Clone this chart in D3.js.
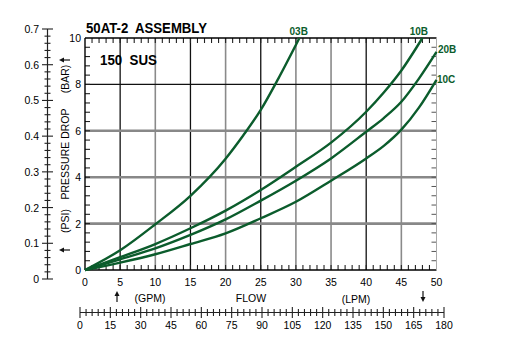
<!DOCTYPE html>
<html><head><meta charset="utf-8">
<script src="https://cdn.jsdelivr.net/npm/d3@7"></script>
<style>
html,body{margin:0;padding:0;background:#fff;}
svg{display:block;}
text{font-family:"Liberation Sans Narrow","Arial Narrow","Liberation Sans",Arial,sans-serif;}
</style></head>
<body>
<script>
// ---------- data ----------
const title = "50AT-2  ASSEMBLY";
const subtitle = "150  SUS";
const seriesNames = ["03B", "10B", "20B", "10C"];
const flow03B = [0, 5, 10, 15, 20, 22.5, 25, 27.5, 30.5];
const psi03B  = [0, 0.85, 1.97, 3.2, 4.8, 5.8, 6.9, 8.25, 10];
const flow10B = [0, 5, 10, 15, 20, 25, 30, 35, 40, 42.5, 45, 48];
const psi10B  = [0, 0.55, 1.12, 1.80, 2.56, 3.45, 4.45, 5.49, 6.82, 7.65, 8.6, 10];
const flow20B = [0, 5, 10, 15, 20, 25, 30, 35, 40, 42.5, 45, 47.5, 50];
const psi20B  = [0, 0.46, 0.93, 1.51, 2.18, 2.99, 3.85, 4.81, 5.96, 6.55, 7.25, 8.25, 9.4];
const flow10C = [0, 5, 10, 15, 20, 25, 30, 35, 40, 42.5, 45, 47.5, 50];
const psi10C  = [0, 0.32, 0.68, 1.12, 1.58, 2.23, 2.94, 3.85, 4.81, 5.35, 6.05, 7.0, 8.2];
const gpmTicks = [0, 5, 10, 15, 20, 25, 30, 35, 40, 45, 50];
const psiTicks = [0, 2, 4, 6, 8, 10];
const barTicks = [0, 0.1, 0.2, 0.3, 0.4, 0.5, 0.6, 0.7];
const lpmTicks = [0, 15, 30, 45, 60, 75, 90, 105, 120, 135, 150, 165, 180];

// ---------- setup ----------
const W = 506, H = 362;
const green = "#0b5c2c";
const svg = d3.select("body").append("svg").attr("width", W).attr("height", H);

const x = d3.scaleLinear().domain([0, 50]).range([85, 436.5]);
const y = d3.scaleLinear().domain([0, 10]).range([270, 38]);
const lpm = d3.scaleLinear().domain([0, 180]).range([80, 444]);
const bar = d3.scaleLinear().domain([0, 0.7]).range([279, 29]);

// ---------- grid ----------
const vGridStyle = {5:"k",10:"g",15:"k",20:"g",25:"k",30:"g",35:"g",40:"k",45:"g"};
const g = svg.append("g");
gpmTicks.filter(v => v > 0 && v < 50).forEach(v => {
  const dark = vGridStyle[v] === "k";
  g.append("line").attr("x1", x(v)).attr("x2", x(v)).attr("y1", y(10)).attr("y2", y(0))
    .attr("stroke", dark ? "#111" : "#8a8a8a").attr("stroke-width", dark ? 1.3 : 1.6);
});
psiTicks.filter(v => v > 0 && v < 10).forEach(v => {
  const dark = v === 8;
  g.append("line").attr("x1", x(0)).attr("x2", x(50)).attr("y1", y(v)).attr("y2", y(v))
    .attr("stroke", dark ? "#111" : "#888").attr("stroke-width", dark ? 1.4 : 2.6);
});

// minor ticks inside frame
d3.range(1, 50).forEach(v => {
  g.append("line").attr("x1", x(v)).attr("x2", x(v)).attr("y1", y(10)).attr("y2", y(10) + 5)
    .attr("stroke", "#222").attr("stroke-width", 1.1);
  g.append("line").attr("x1", x(v)).attr("x2", x(v)).attr("y1", y(0)).attr("y2", y(0) - 5)
    .attr("stroke", "#222").attr("stroke-width", 1.1);
});
d3.range(0.4, 10, 0.4).forEach(v => {
  g.append("line").attr("x1", x(0)).attr("x2", x(0) + 5).attr("y1", y(v)).attr("y2", y(v))
    .attr("stroke", "#222").attr("stroke-width", 1.1);
  g.append("line").attr("x1", x(50)).attr("x2", x(50) - 5).attr("y1", y(v)).attr("y2", y(v))
    .attr("stroke", "#555").attr("stroke-width", 1);
});

// frame
g.append("line").attr("x1", x(0)).attr("x2", x(50)).attr("y1", y(10)).attr("y2", y(10)).attr("stroke", "#000").attr("stroke-width", 1.4);
g.append("line").attr("x1", x(0)).attr("x2", x(50)).attr("y1", y(0)).attr("y2", y(0)).attr("stroke", "#000").attr("stroke-width", 1.4);
g.append("line").attr("x1", x(0)).attr("x2", x(0)).attr("y1", y(10)).attr("y2", y(0)).attr("stroke", "#000").attr("stroke-width", 1.4);
g.append("line").attr("x1", x(50)).attr("x2", x(50)).attr("y1", y(10)).attr("y2", y(0)).attr("stroke", "#aaa").attr("stroke-width", 1);

// ---------- curves ----------
const line = d3.line().x(d => x(d[0])).y(d => y(d[1])).curve(d3.curveMonotoneX);
const series = [
  [flow03B, psi03B], [flow10B, psi10B], [flow20B, psi20B], [flow10C, psi10C]
];
series.forEach(([f, p]) => {
  svg.append("path").datum(f.map((v, i) => [v, p[i]])).attr("d", line)
    .attr("fill", "none").attr("stroke", green).attr("stroke-width", 2.4);
});

// curve labels
const lab = svg.append("g").attr("fill", green).attr("font-weight", "bold").attr("font-size", 10)
  .style("font-family", "'Liberation Sans',Arial,sans-serif");
lab.append("text").attr("x", x(30.4)).attr("y", 35).attr("text-anchor", "middle").text(seriesNames[0]);
lab.append("text").attr("x", x(47.5)).attr("y", 35).attr("text-anchor", "middle").text(seriesNames[1]);
lab.append("text").attr("x", 438).attr("y", 53).text(seriesNames[2]);
lab.append("text").attr("x", 437).attr("y", 83).text(seriesNames[3]);

// ---------- psi labels ----------
psiTicks.forEach(v => {
  svg.append("text").attr("x", 81).attr("y", y(v) + 4).attr("text-anchor", "end")
    .attr("font-size", 10.5).text(v);
});
// gpm labels
gpmTicks.forEach(v => {
  svg.append("text").attr("x", x(v)).attr("y", 286).attr("text-anchor", "middle")
    .attr("font-size", 10.5).text(v);
});

// ---------- bar axis ----------
const ba = svg.append("g");
ba.append("line").attr("x1", 47.5).attr("x2", 47.5).attr("y1", bar(0.7)).attr("y2", bar(0))
  .attr("stroke", "#222").attr("stroke-width", 1.2);
d3.range(0, 0.7001, 0.02).forEach((v, i) => {
  const major = i % 5 === 0;
  ba.append("line").attr("x1", major ? 42 : 44.5).attr("x2", major ? 53 : 50.5)
    .attr("y1", bar(v)).attr("y2", bar(v)).attr("stroke", "#222").attr("stroke-width", 1.1);
});
barTicks.forEach(v => {
  ba.append("text").attr("x", 39).attr("y", bar(v) + 4).attr("text-anchor", "end")
    .attr("font-size", 10.5).text(v === 0 ? "0" : v.toFixed(1));
});

// ---------- lpm axis ----------
const la = svg.append("g");
la.append("line").attr("x1", lpm(0)).attr("x2", lpm(180)).attr("y1", 312.5).attr("y2", 312.5)
  .attr("stroke", "#222").attr("stroke-width", 1.2);
d3.range(0, 180.001, 3).forEach((v, i) => {
  const major = i % 5 === 0;
  la.append("line").attr("x1", lpm(v)).attr("x2", lpm(v))
    .attr("y1", major ? 307 : 309).attr("y2", major ? 318 : 316)
    .attr("stroke", "#222").attr("stroke-width", 1.1);
});
lpmTicks.forEach(v => {
  la.append("text").attr("x", lpm(v)).attr("y", 329).attr("text-anchor", "middle")
    .attr("font-size", 10.5).text(v);
});

// ---------- axis titles ----------
svg.append("text").attr("x", 150).attr("y", 302).attr("text-anchor", "middle").attr("font-size", 10.5).text("(GPM)");
svg.append("text").attr("x", 251).attr("y", 302).attr("text-anchor", "middle").attr("font-size", 10.5).text("FLOW");
svg.append("text").attr("x", 356).attr("y", 303).attr("text-anchor", "middle").attr("font-size", 10.5).text("(LPM)");

function arrow(cx, cy, dir) {
  const gA = svg.append("g").attr("transform", `translate(${cx},${cy})`);
  let path, stem;
  if (dir === "up") { path = "M0,-6 L-2.5,-1 L2.5,-1 Z"; stem = [0, -1, 0, 5]; }
  else if (dir === "down") { path = "M0,6 L-2.5,1 L2.5,1 Z"; stem = [0, 1, 0, -5]; }
  else { path = "M-6,0 L-1,-2.5 L-1,2.5 Z"; stem = [-1, 0, 5, 0]; }
  gA.append("path").attr("d", path).attr("fill", "#111");
  gA.append("line").attr("x1", stem[0]).attr("y1", stem[1]).attr("x2", stem[2]).attr("y2", stem[3])
    .attr("stroke", "#111").attr("stroke-width", 1.2);
}
arrow(117, 297, "up");
arrow(423, 296, "down");
arrow(65, 60, "left");
arrow(65, 250, "left");

const yt = svg.append("g").attr("font-size", 10.5);
yt.append("text").attr("transform", "translate(69,154) rotate(-90)").attr("text-anchor", "middle").text("PRESSURE  DROP");
yt.append("text").attr("transform", "translate(69,79) rotate(-90)").attr("text-anchor", "middle").text("(BAR)");
yt.append("text").attr("transform", "translate(69,221) rotate(-90)").attr("text-anchor", "middle").text("(PSI)");

// ---------- titles ----------
svg.append("text").attr("x", 86).attr("y", 33).attr("font-size", 14).attr("font-weight", "bold")
  .style("font-family", "'Liberation Sans',Arial,sans-serif")
  .attr("textLength", 121).attr("lengthAdjust", "spacingAndGlyphs")
  .style("white-space", "pre").text(title);
svg.append("text").attr("x", 100).attr("y", 65).attr("font-size", 14).attr("font-weight", "bold")
  .style("font-family", "'Liberation Sans',Arial,sans-serif")
  .attr("textLength", 57).attr("lengthAdjust", "spacingAndGlyphs")
  .style("white-space", "pre").text(subtitle);
</script>
</body></html>
